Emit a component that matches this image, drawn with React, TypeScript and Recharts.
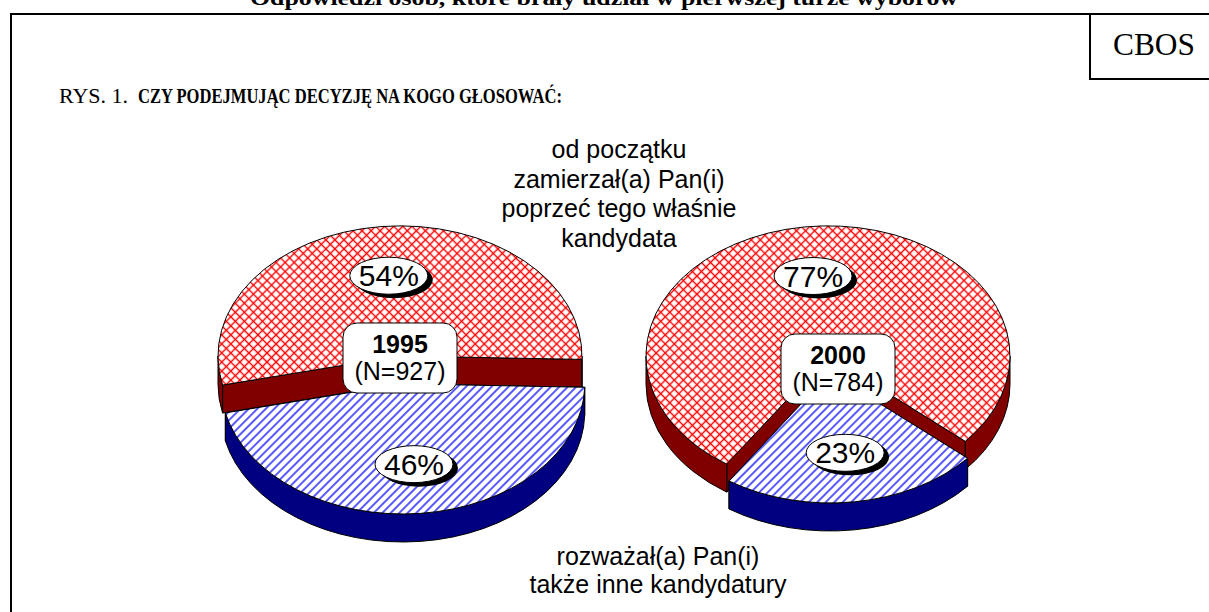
import React from 'react';
import { PieChart, Pie } from 'recharts';

// ---------- data ----------
const categories = [
  'od początku zamierzał(a) Pan(i) poprzeć tego właśnie kandydata',
  'rozważał(a) Pan(i) także inne kandydatury',
];
const values1995 = [54, 46];
const values2000 = [77, 23];
const years = ['1995', '2000'];
const sampleSizes = [927, 784];
const topCalloutLines = ['od początku', 'zamierzał(a) Pan(i)', 'poprzeć tego właśnie', 'kandydata'];
const bottomCalloutLines = ['rozważał(a) Pan(i)', 'także inne kandydatury'];
const titleText = 'Odpowiedzi osób, które brały udział w pierwszej turze wyborów';
const figPrefix = 'RYS. 1.';
const figQuestion = 'CZY PODEJMUJĄC DECYZJĘ NA KOGO GŁOSOWAĆ:';
const sourceText = 'CBOS';

// ---------- style ----------
const W = 1209;
const H = 612;
const SANS = '"Liberation Sans", Arial, sans-serif';
const SERIF = '"Liberation Serif", "Times New Roman", serif';
const TOP_FILLS = ['url(#hatchRed)', 'url(#hatchBlue)'];
const WALL_FILLS = ['#800000', '#000080'];
const TILT = 0.715;
const DEPTH = 28;
const RADIUS = 182;
const LABEL_R = 0.62;
const d2r = Math.PI / 180;

type PieCfg = {
  values: number[];
  year: string;
  n: number;
  cx: number;
  cy: number;
  startAngle: number;
  explodedIndex: number;
  explode: number;
  boxDx: number;
  boxDy: number;
};

const pieConfigs: PieCfg[] = [
  { values: values1995, year: years[0], n: sampleSizes[0], cx: 400, cy: 356, startAngle: -1.5, explodedIndex: 1, explode: 28, boxDx: 0, boxDy: 2 },
  { values: values2000, year: years[1], n: sampleSizes[1], cx: 828, cy: 356, startAngle: -41, explodedIndex: 1, explode: 17, boxDx: 10, boxDy: 13 },
];

const geometry = (cfg: PieCfg, props: any) => {
  const { cx, cy, outerRadius, startAngle, endAngle, index } = props;
  const rx = outerRadius;
  const ry = outerRadius * TILT;
  const a1 = -Math.max(startAngle, endAngle);
  const a2 = -Math.min(startAngle, endAngle);
  const am = (a1 + a2) / 2;
  const e = index === cfg.explodedIndex ? cfg.explode : 0;
  const ox = cx + e * Math.cos(am * d2r);
  const oy = cy + e * Math.sin(am * d2r);
  const P = (a: number): [number, number] => [ox + rx * Math.cos(a * d2r), oy + ry * Math.sin(a * d2r)];
  return { rx, ry, a1, a2, am, ox, oy, P, index };
};

const makeShapeRenderer = (cfg: PieCfg) => (props: any) => {
  const g = geometry(cfg, props);
  const { rx, ry, a1, a2, ox, oy, P, index } = g;
  const wall = WALL_FILLS[index];
  const top = TOP_FILLS[index];
  const faces = [a1, a2].map((a, i) => {
    const [px, py] = P(a);
    return (
      <path
        key={`f${i}`}
        d={`M${ox},${oy}L${px},${py}L${px},${py + DEPTH}L${ox},${oy + DEPTH}Z`}
        fill={wall}
        stroke="#000"
        strokeWidth={1}
        strokeLinejoin="round"
      />
    );
  });
  const walls: React.ReactNode[] = [];
  for (let k = -2; k <= 1; k++) {
    const lo = Math.max(a1, 360 * k);
    const hi = Math.min(a2, 180 + 360 * k);
    if (hi - lo > 0.01) {
      const [x1, y1] = P(lo);
      const [x2, y2] = P(hi);
      walls.push(
        <path
          key={`w${k}`}
          d={`M${x1},${y1}A${rx},${ry} 0 0 1 ${x2},${y2}L${x2},${y2 + DEPTH}A${rx},${ry} 0 0 0 ${x1},${y1 + DEPTH}Z`}
          fill={wall}
          stroke="#000"
          strokeWidth={1}
          strokeLinejoin="round"
        />
      );
    }
  }
  const [sx, sy] = P(a1);
  const [ex, ey] = P(a2);
  const large = a2 - a1 > 180 ? 1 : 0;
  return (
    <g>
      {faces}
      {walls}
      <path
        d={`M${ox},${oy}L${sx},${sy}A${rx},${ry} 0 ${large} 1 ${ex},${ey}Z`}
        fill={top}
        stroke="#000"
        strokeWidth={1}
        strokeLinejoin="round"
      />
    </g>
  );
};

const makeOverlayRenderer = (cfg: PieCfg) => (props: any) => {
  const g = geometry(cfg, props);
  const { rx, ry, am, ox, oy, index } = g;
  const lx = ox + LABEL_R * rx * Math.cos(am * d2r);
  const ly = oy + LABEL_R * ry * Math.sin(am * d2r);
  const isLast = index === cfg.values.length - 1;
  const bx = props.cx + cfg.boxDx;
  const by = props.cy + cfg.boxDy;
  return (
    <g>
      <ellipse cx={lx + 5} cy={ly + 4} rx={39} ry={18.5} fill="#000" />
      <ellipse cx={lx} cy={ly} rx={39} ry={18.5} fill="#fff" stroke="#000" strokeWidth={1} />
      <text x={lx} y={ly + 10.5} textAnchor="middle" fontFamily={SANS} fontSize={30} fill="#000">
        {`${props.value}%`}
      </text>
      {isLast && (
        <g>
          <rect x={bx - 57} y={by - 35} width={114} height={70} rx={14} ry={14} fill="#fff" stroke="#000" strokeWidth={1} />
          <text x={bx} y={by - 5} textAnchor="middle" fontFamily={SANS} fontSize={25} fontWeight="bold" fill="#000">
            {cfg.year}
          </text>
          <text x={bx} y={by + 22} textAnchor="middle" fontFamily={SANS} fontSize={25} fill="#000">
            {`(N=${cfg.n})`}
          </text>
        </g>
      )}
    </g>
  );
};

export default function App() {
  const datasets = pieConfigs.map((cfg) => categories.map((name, i) => ({ name, value: cfg.values[i] })));
  return (
    <div style={{ position: 'relative', width: W, height: H, background: '#fff', overflow: 'hidden' }}>
      <style>{'body{margin:0;background:#fff}'}</style>
      <svg width={W} height={H} style={{ position: 'absolute', left: 0, top: 0 }}>
        <defs>
          <pattern id="hatchRed" patternUnits="userSpaceOnUse" width={6.4} height={6.4} patternTransform="rotate(45)">
            <rect width={6.4} height={6.4} fill="#fff" />
            <path d="M0,3.2H6.4M3.2,0V6.4" stroke="#ff0000" strokeWidth={1.4} />
          </pattern>
          <pattern id="hatchBlue" patternUnits="userSpaceOnUse" width={6} height={6} patternTransform="rotate(45)">
            <rect width={6} height={6} fill="#fff" />
            <path d="M3,0V6" stroke="#0000ff" strokeWidth={1.3} />
          </pattern>
        </defs>
        <text x={604} y={5} textAnchor="middle" fontFamily={SERIF} fontWeight="bold" fontSize={20} textLength={708} lengthAdjust="spacingAndGlyphs">
          {titleText}
        </text>
        <path d={`M11,${H + 5}V14H${W + 5}`} fill="none" stroke="#000" strokeWidth={2} />
        <path d={`M1090,14V79H${W + 5}`} fill="none" stroke="#000" strokeWidth={2} />
        <text x={1154} y={55} textAnchor="middle" fontFamily={SERIF} fontSize={32} textLength={82} lengthAdjust="spacingAndGlyphs">
          {sourceText}
        </text>
        <text x={59} y={103} fontFamily={SERIF} fontSize={22}>
          {figPrefix}
        </text>
        <text x={138} y={103} fontFamily={SERIF} fontWeight="bold" fontSize={22} textLength={424} lengthAdjust="spacingAndGlyphs">
          {figQuestion}
        </text>
        {topCalloutLines.map((line, i) => (
          <text key={`t${i}`} x={619} y={158 + i * 29.7} textAnchor="middle" fontFamily={SANS} fontSize={25}>
            {line}
          </text>
        ))}
        {bottomCalloutLines.map((line, i) => (
          <text key={`b${i}`} x={658} y={565 + i * 28} textAnchor="middle" fontFamily={SANS} fontSize={25}>
            {line}
          </text>
        ))}
      </svg>
      <div style={{ position: 'absolute', left: 0, top: 0 }}>
        <PieChart width={W} height={H} margin={{ top: 0, right: 0, bottom: 0, left: 0 }}>
          {pieConfigs.map((cfg, p) => (
            <Pie
              key={`shape${p}`}
              data={datasets[p]}
              dataKey="value"
              nameKey="name"
              cx={cfg.cx}
              cy={cfg.cy}
              outerRadius={RADIUS}
              innerRadius={0}
              startAngle={cfg.startAngle}
              endAngle={cfg.startAngle + 360}
              fill="none"
              stroke="none"
              isAnimationActive={false}
              labelLine={false}
              label={makeShapeRenderer(cfg)}
            />
          ))}
          {pieConfigs.map((cfg, p) => (
            <Pie
              key={`overlay${p}`}
              data={datasets[p]}
              dataKey="value"
              nameKey="name"
              cx={cfg.cx}
              cy={cfg.cy}
              outerRadius={RADIUS}
              innerRadius={0}
              startAngle={cfg.startAngle}
              endAngle={cfg.startAngle + 360}
              fill="none"
              stroke="none"
              isAnimationActive={false}
              labelLine={false}
              label={makeOverlayRenderer(cfg)}
            />
          ))}
        </PieChart>
      </div>
    </div>
  );
}
